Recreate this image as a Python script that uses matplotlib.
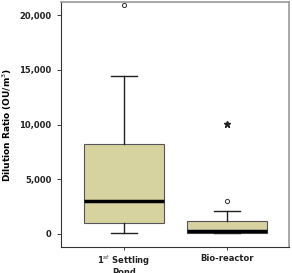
import matplotlib
matplotlib.use("Agg")
import matplotlib.pyplot as plt
from matplotlib.ticker import FuncFormatter

# Box statistics
groups = ["1$^{st}$ Settling\nPond", "Bio-reactor"]
q1 = [950, 120]
medians = [3000, 230]
q3 = [8200, 1220]
whis_lo = [90, 120]
whis_hi = [14450, 2100]
outliers = [[20900], [3000]]
extremes = [[], [10050]]

stats = []
for i in range(len(groups)):
    stats.append(dict(label=groups[i], med=medians[i], q1=q1[i], q3=q3[i],
                      whislo=whis_lo[i], whishi=whis_hi[i], fliers=outliers[i]))

fig = plt.figure(figsize=(2.92, 2.73), dpi=100)
ax = fig.add_axes([61/292, 1 - 247/273, 228/292, 245/273])

pos = [1, 2]
ax.bxp(stats, positions=pos, widths=0.77, patch_artist=True,
       boxprops=dict(facecolor="#d6d3a1", edgecolor="#555555", linewidth=0.8),
       medianprops=dict(color="black", linewidth=2.5),
       whiskerprops=dict(color="#222222", linewidth=1),
       capprops=dict(color="#222222", linewidth=1),
       capwidths=0.25,
       flierprops=dict(marker="o", markersize=3, markerfacecolor="white",
                       markeredgecolor="#333333", markeredgewidth=0.7))
for p, ex in zip(pos, extremes):
    if ex:
        ax.plot([p] * len(ex), ex, marker="*", markersize=4.5, color="#222222", linestyle="none")

ax.set_xlim(0.39, 2.6)
ax.set_ylim(-1200, 21200)
ax.set_yticks([0, 5000, 10000, 15000, 20000])
ax.yaxis.set_major_formatter(FuncFormatter(lambda v, p: f"{int(v):,}"))
ax.set_xticks(pos)
ax.set_xticklabels(groups, fontsize=6, fontweight="bold", color="#222222", linespacing=0.9)
ax.tick_params(axis="y", labelsize=6, length=3, width=0.6, colors="#222222", pad=4)
ax.tick_params(axis="x", length=2, width=0.6, colors="#222222", pad=3)
for lab in ax.get_yticklabels():
    lab.set_fontweight("bold")

for s in ["top", "right"]:
    ax.spines[s].set_color("#999999")
    ax.spines[s].set_linewidth(1.2)
for s in ["left", "bottom"]:
    ax.spines[s].set_color("#333333")
    ax.spines[s].set_linewidth(0.8)

ax.set_ylabel("Dilution Ratio (OU/m$^{3}$)", fontsize=6.5, fontweight="bold")
ax.yaxis.set_label_coords(-47/228, 0.5)

fig.savefig("out.png", dpi=100)
